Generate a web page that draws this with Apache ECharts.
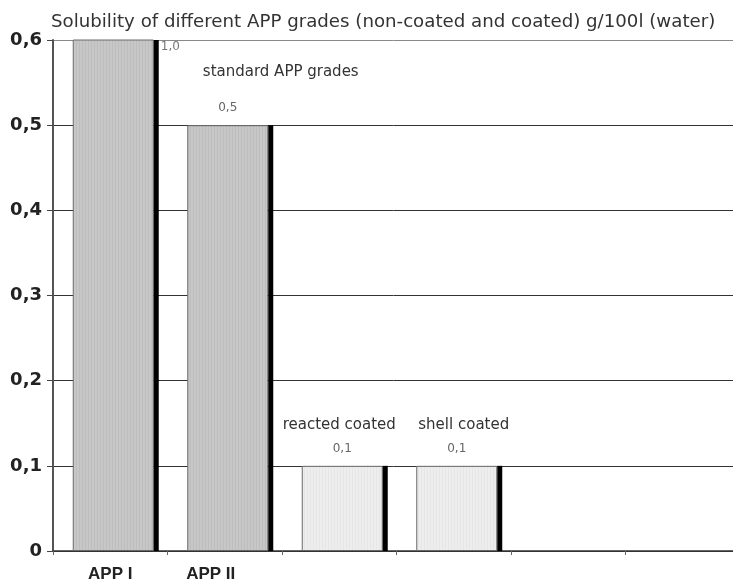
<!DOCTYPE html>
<html>
<head>
<meta charset="utf-8">
<script src="https://cdn.jsdelivr.net/npm/echarts@6/dist/echarts.min.js"></script>
<style>
  html, body { margin: 0; padding: 0; background: #fff; }
  #chart { width: 733px; height: 585px; }
</style>
</head>
<body>
<div id="chart"></div>
<script>
// Solubility of APP grades, g/100 l water
const categories = ['APP I', 'APP II', '', '', '', ''];
const solubility = [1.0, 0.5, 0.1, 0.1, null, null];
const coated = [false, false, true, true, false, false];
const valueLabels = ['1,0', '0,5', '0,1', '0,1', '', ''];
const groupNames = [
  { text: 'standard APP grades', index: 1 },
  { text: 'reacted coated', index: 2 },
  { text: 'shell coated', index: 3 }
];
const yTicks = [0, 0.1, 0.2, 0.3, 0.4, 0.5, 0.6];

// striped fill patterns for the bars
function stripes(colors) {
  const c = document.createElement('canvas');
  c.width = colors.length; c.height = 4;
  const g = c.getContext('2d');
  colors.forEach((col, i) => { g.fillStyle = col; g.fillRect(i, 0, 1, 4); });
  return { image: c, repeat: 'repeat' };
}
const plainFill = stripes(['#c6c6c6', '#bdbdbd', '#c8c8c8']);
const coatedFill = stripes(['#ededed', '#e6e6e6', '#eeeeee']);

const chart = echarts.init(document.getElementById('chart'));
const sans = 'DejaVu Sans, Verdana, sans-serif';
const arial = 'Liberation Sans, Arial, sans-serif';

chart.setOption({
  animation: false,
  backgroundColor: '#fff',
  title: {
    text: 'Solubility of different APP grades (non-coated and coated) g/100l (water)',
    left: 46, top: 8,
    textStyle: { fontFamily: sans, fontSize: 18.2, fontWeight: 'normal', color: '#333' }
  },
  grid: { left: 53, top: 40, width: 687, bottom: 34, outerBoundsMode: 'none' },
  xAxis: {
    type: 'category',
    data: categories,
    axisLine: { lineStyle: { color: '#333', width: 1.5 } },
    axisTick: { show: true, length: 4, lineStyle: { color: '#666' } },
    axisLabel: {
      margin: 15,
      formatter: (v, i) => v ? (i === 0 ? '{a|' + v + '}' : '{b|' + v + '}') : '',
      rich: {
        a: { fontFamily: arial, fontSize: 17, fontWeight: 'bold', color: '#222' },
        b: { fontFamily: arial, fontSize: 17, fontWeight: 'bold', color: '#222', padding: [0, 28, 0, 0] }
      }
    }
  },
  yAxis: {
    type: 'value',
    min: 0, max: 0.6, interval: 0.1,
    axisLine: { show: true, lineStyle: { color: '#555', width: 2 } },
    axisTick: { show: true, length: 6, lineStyle: { color: '#444' } },
    axisLabel: {
      margin: 11,
      fontFamily: sans, fontSize: 18, fontWeight: 'bold', color: '#222',
      formatter: v => {
        const t = yTicks.find(x => Math.abs(x - v) < 1e-9);
        return (t === 0 ? '0' : t.toFixed(1)).replace('.', ',');
      }
    },
    splitLine: {
      lineStyle: { color: ['#333', '#333', '#333', '#333', '#333', '#333', '#888'], width: 1 }
    }
  },
  series: [
    {
      // spacer that pushes the visible bars right of the category centre
      type: 'bar', barWidth: 11, barGap: '0%', silent: true,
      data: solubility,
      itemStyle: { color: 'rgba(0,0,0,0)' }
    },
    {
      type: 'bar', barWidth: 81, barGap: '0%',
      data: solubility.map((v, i) => ({
        value: v,
        itemStyle: { color: coated[i] ? coatedFill : plainFill }
      })),
      itemStyle: { borderColor: '#6a6a6a', borderWidth: 1 },
      label: {
        show: true, position: 'top', distance: 11,
        fontFamily: sans, fontSize: 12, color: '#666',
        formatter: p => p.dataIndex === 0 ? '' : valueLabels[p.dataIndex]
      }
    },
    {
      type: 'bar', barWidth: 5, barGap: '0%',
      data: solubility,
      itemStyle: { color: '#000' },
      label: {
        show: true, position: [7, 1],
        fontFamily: sans, fontSize: 12, color: '#777',
        formatter: p => p.dataIndex === 0 ? valueLabels[0] : ''
      }
    }
  ]
});

// group headings above the bars, placed through the axis scales
const headOffsets = [[56, -53], [0, -41], [10, -41]];
chart.setOption({
  graphic: groupNames.map((g, k) => {
    const p = chart.convertToPixel({ gridIndex: 0 }, [g.index, solubility[g.index]]);
    return {
      type: 'text',
      x: p[0] + headOffsets[k][0],
      y: p[1] + headOffsets[k][1],
      style: {
        text: g.text, fill: '#333', font: '15px ' + sans,
        textAlign: 'center', textVerticalAlign: 'middle'
      }
    };
  })
});
</script>
</body>
</html>
